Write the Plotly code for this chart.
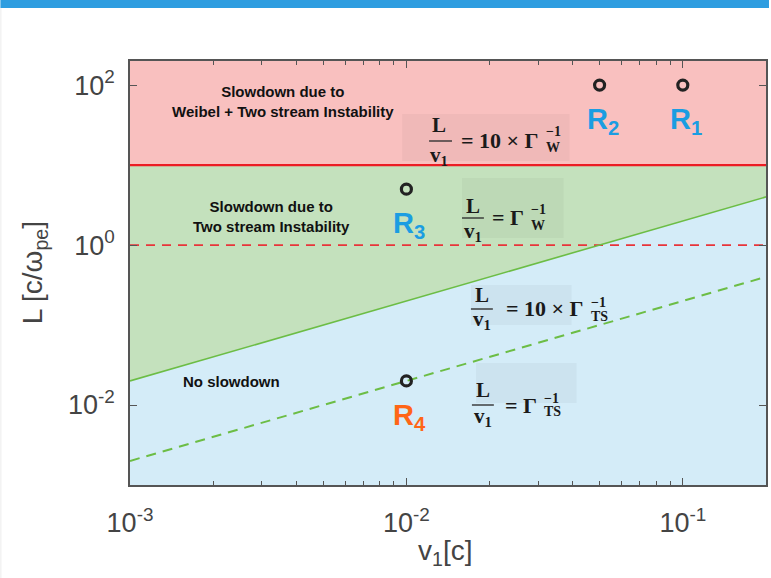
import numpy as np
import plotly.graph_objects as go

# ---- axis limits ----
v_lim = [1e-3, 0.2]          # v1 [c]
L_lim = [1e-3, 200.0]        # L [c/w_pe]

# ---- regime boundaries ----
L_weibel_10 = 10.0           # L/v1 = 10 x Gamma_W^-1
L_weibel_1 = 1.0             # L/v1 = Gamma_W^-1
ts_slope_10 = 20.0           # L = 20 v1  (L/v1 = 10 x Gamma_TS^-1)
ts_slope_1 = 2.0             # L = 2 v1   (L/v1 = Gamma_TS^-1)

# ---- simulation runs ----
run_names = ["R<sub>1</sub>", "R<sub>2</sub>", "R<sub>3</sub>", "R<sub>4</sub>"]
run_v1 = [0.1, 0.05, 0.01, 0.01]
run_L = [100.0, 100.0, 5.0, 0.02]
run_colors = ["#1b9de2", "#1b9de2", "#1b9de2", "#ff6516"]

# ---- ticks ----
x_tickvals = [1e-3, 1e-2, 1e-1]
x_ticktext = ["10<sup>-3</sup>", "10<sup>-2</sup>", "10<sup>-1</sup>"]
y_tickvals = [1e-2, 1.0, 1e2]
y_ticktext = ["10<sup>-2</sup>", "10<sup>0</sup>", "10<sup>2</sup>"]
x_minor = [m * 10.0 ** e for e in (-3, -2, -1) for m in range(2, 10) if m * 10.0 ** e < v_lim[1]]

# layout geometry (pixels)
W, H = 771, 578
ML, MR, MT, MB = 130, 3, 61, 93
PW, PH = W - ML - MR, H - MT - MB


def px(x):
    return (x - ML) / PW


def py(y):
    return (H - MB - y) / PH


def note(x, y, text, font, xanchor="center", **kw):
    return dict(x=px(x), y=py(y), xref="paper", yref="paper", showarrow=False,
                xanchor=xanchor, yanchor="middle", text=text, font=font, **kw)


v0, v1 = v_lim
Lb, Lt = L_lim

fig = go.Figure()

# shaded regimes
fig.add_trace(go.Scatter(
    x=[v0, v0, v1, v1], y=[Lb, ts_slope_10 * v0, ts_slope_10 * v1, Lb],
    fill="toself", fillcolor="#d4ecf8", line=dict(width=0), mode="lines",
    hoverinfo="skip", showlegend=False))
fig.add_trace(go.Scatter(
    x=[v0, v1, v1, v0], y=[ts_slope_10 * v0, ts_slope_10 * v1, L_weibel_10, L_weibel_10],
    fill="toself", fillcolor="#c4e1bd", line=dict(width=0), mode="lines",
    hoverinfo="skip", showlegend=False))
fig.add_trace(go.Scatter(
    x=[v0, v1, v1, v0], y=[L_weibel_10, L_weibel_10, Lt, Lt],
    fill="toself", fillcolor="#f9c0bf", line=dict(width=0), mode="lines",
    hoverinfo="skip", showlegend=False))

# boundary lines
fig.add_trace(go.Scatter(x=[v0, v1], y=[L_weibel_10] * 2, mode="lines",
                         line=dict(color="#ec1c24", width=2.2), showlegend=False))
fig.add_trace(go.Scatter(x=[v0, v1], y=[L_weibel_1] * 2, mode="lines",
                         line=dict(color="#e8343a", width=1.8, dash="9px,7px"), showlegend=False))
fig.add_trace(go.Scatter(x=[v0, v1], y=[ts_slope_10 * v0, ts_slope_10 * v1], mode="lines",
                         line=dict(color="#6cbd45", width=1.6), showlegend=False))
fig.add_trace(go.Scatter(x=[v0, v1], y=[ts_slope_1 * v0, ts_slope_1 * v1], mode="lines",
                         line=dict(color="#6cbd45", width=2, dash="10px,7px"), showlegend=False))

# runs
fig.add_trace(go.Scatter(x=run_v1, y=run_L, mode="markers",
                         marker=dict(symbol="circle-open", size=10, color="#222",
                                     line=dict(width=3.2, color="#222")),
                         showlegend=False))

annotations = []
for name, xv, yv, c in zip(run_names, run_v1, run_L, run_colors):
    annotations.append(dict(x=np.log10(xv), y=np.log10(yv), xref="x", yref="y",
                            xanchor="center", yanchor="middle",
                            text="<b>" + name + "</b>", showarrow=False,
                            xshift=3, yshift=-36,
                            font=dict(family="Liberation Sans, Arial", size=29, color=c)))

region_font = dict(family="Liberation Sans, Arial", size=15, color="#111")
annotations += [
    note(283, 101, "<b>Slowdown due to<br>Weibel + Two stream Instability</b>", region_font),
    note(272, 216, "<b>Slowdown due to<br>Two stream Instability</b>", region_font),
    note(232, 381, "<b>No slowdown</b>", region_font),
]

# formula labels: L / v1 = ... Gamma^{-1}_{sub}
serif = "Liberation Serif, DejaVu Serif, serif"
fcol = "#1a1a1a"
formulas = [
    # gx: right edge of the Gamma, scripts follow it
    dict(box=(403, 571, 114, 161), fx=440, ly=125, bar=(430, 453, 141), vy=156,
         rest="= 10 × Γ", gx=542, ry=140, supy=131, sub="W", suby=147),
    dict(box=(463, 565, 178, 238), fx=474, ly=206, bar=(463, 485, 218), vy=232,
         rest="= Γ", gx=527, ry=218, supy=210, sub="W", suby=225),
    dict(box=(472, 573, 285, 325), fx=483, ly=295, bar=(472, 494, 309), vy=320,
         rest="= 10 × Γ", gx=587, ry=308, supy=302, sub="TS", suby=316),
    dict(box=(477, 578, 363, 403), fx=484, ly=390, bar=(473, 495, 405), vy=417,
         rest="= Γ", gx=540, ry=405, supy=398, sub="TS", suby=411),
]

shapes = []
for f in formulas:
    bx0, bx1, by0, by1 = f["box"]
    shapes.append(dict(type="rect", xref="paper", yref="paper", layer="above",
                       x0=px(bx0), x1=px(bx1), y0=py(by1), y1=py(by0),
                       fillcolor="rgba(0,0,0,0.035)", line=dict(width=0)))
    b0, b1, by = f["bar"]
    shapes.append(dict(type="line", xref="paper", yref="paper", layer="above",
                       x0=px(b0), x1=px(b1), y0=py(by), y1=py(by),
                       line=dict(color="#333", width=1.4)))
    annotations += [
        note(f["fx"], f["ly"], "<b>L</b>", dict(family=serif, size=21, color=fcol)),
        note(f["fx"], f["vy"], "<b>v</b><b><sub>1</sub></b>", dict(family=serif, size=21, color=fcol)),
        note(f["gx"], f["ry"], "<b>" + f["rest"] + "</b>", dict(family=serif, size=22, color=fcol),
             xanchor="right"),
        note(f["gx"] + 3, f["supy"], "<b>−1</b>", dict(family=serif, size=14, color=fcol),
             xanchor="left"),
        note(f["gx"] + 3, f["suby"], "<b>" + f["sub"] + "</b>", dict(family=serif, size=14, color=fcol),
             xanchor="left"),
    ]

# axis titles
title_font = dict(family="Liberation Sans, Arial", size=28, color="#444")
annotations += [
    note(34, 273, "L [c/ω<sub>pe</sub>]", title_font, textangle=-90),
    note(446, 552, "v<sub>1</sub>[c]", title_font),
]

# header strip and page edge
shapes.append(dict(type="rect", xref="paper", yref="paper", layer="above",
                   x0=px(0), x1=px(W), y0=py(8), y1=py(0),
                   fillcolor="#2e9de0", line=dict(width=0)))
shapes.append(dict(type="line", xref="paper", yref="paper", layer="above",
                   x0=px(0.5), x1=px(0.5), y0=py(H), y1=py(8),
                   line=dict(color="#ececec", width=1)))

axis_common = dict(type="log", showgrid=False, zeroline=False, showline=True,
                   mirror="allticks", linecolor="#555", linewidth=1.5,
                   ticks="inside", ticklen=7, tickcolor="#555", tickwidth=1.2,
                   tickfont=dict(family="Liberation Sans, Arial", size=27, color="#444"))

fig.update_layout(
    width=W, height=H,
    margin=dict(l=ML, r=MR, t=MT, b=MB),
    paper_bgcolor="white", plot_bgcolor="white",
    xaxis=dict(range=[np.log10(v0), np.log10(v1)], tickmode="array",
               tickvals=x_tickvals, ticktext=x_ticktext, ticklabelstandoff=13,
               minor=dict(ticks="inside", ticklen=4, tickcolor="#555", tickwidth=1,
                          tickvals=x_minor),
               **axis_common),
    yaxis=dict(range=[np.log10(Lb), np.log10(Lt)], tickmode="array",
               tickvals=y_tickvals, ticktext=y_ticktext, ticklabelstandoff=8,
               **axis_common),
    annotations=annotations,
    shapes=shapes,
)

fig.write_html("out.html")
